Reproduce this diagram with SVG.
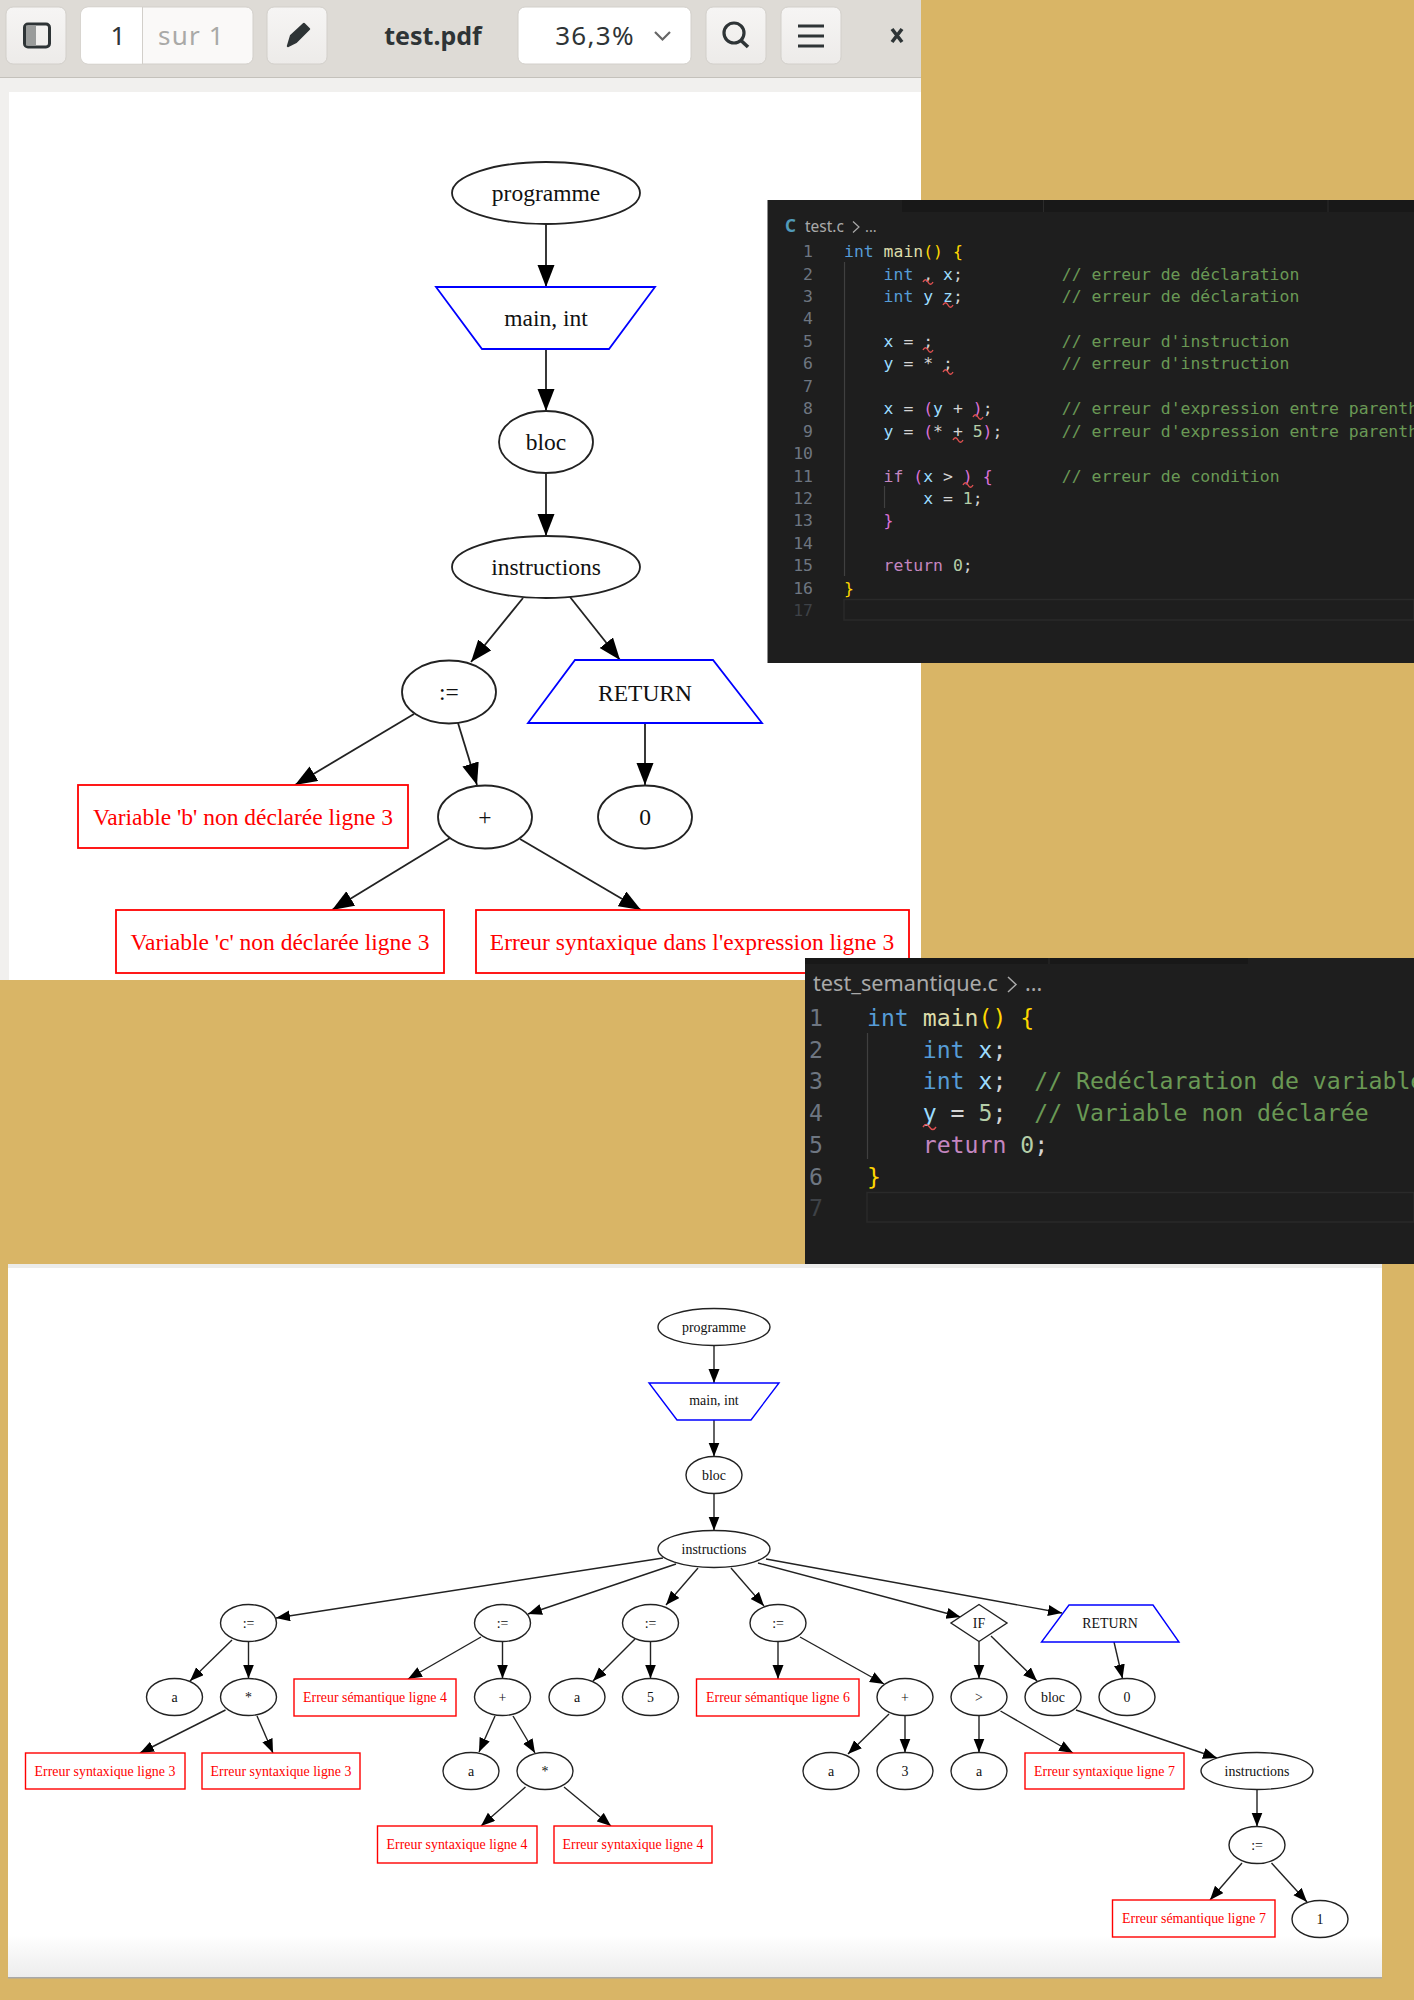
<svg xmlns="http://www.w3.org/2000/svg" width="1414" height="2000" viewBox="0 0 1414 2000">
<style>
.n{fill:#fff;stroke:#222;stroke-width:1.8}
.n2{fill:#fff;stroke:#222;stroke-width:1.4}
.b{fill:#fff;stroke:#0000ff;stroke-width:1.8}
.b2{fill:#fff;stroke:#0000ff;stroke-width:1.4}
.r{fill:#fff;stroke:#ff0000;stroke-width:1.8}
.r2{fill:#fff;stroke:#ff0000;stroke-width:1.4}
.t{font-family:"Liberation Serif",serif;font-size:23.5px;text-anchor:middle;fill:#111}
.tr{font-family:"Liberation Serif",serif;font-size:23.5px;text-anchor:middle;fill:#ff0000}
.s{font-family:"Liberation Serif",serif;font-size:13.9px;text-anchor:middle;fill:#111}
.sr{font-family:"Liberation Serif",serif;font-size:13.9px;text-anchor:middle;fill:#ff0000}
.e1 line{stroke:#222;stroke-width:1.8;marker-end:url(#a1)}
.e2 line{stroke:#222;stroke-width:1.4;marker-end:url(#a2)}
.btn{fill:#f1f0ee;stroke:#d2cfca;stroke-width:1}
.ui{font-family:"Noto Sans",sans-serif;font-size:26px;fill:#2e3436}
.c1{font-family:"DejaVu Sans Mono",monospace;font-size:16.45px;white-space:pre;fill:#d4d4d4}
.c2{font-family:"DejaVu Sans Mono",monospace;font-size:23.15px;white-space:pre;fill:#d4d4d4}
.l1{font-family:"DejaVu Sans Mono",monospace;font-size:16.45px;text-anchor:end;fill:#6e7681}
.l2{font-family:"DejaVu Sans Mono",monospace;font-size:23.15px;text-anchor:end;fill:#6e7681}
.k{fill:#569cd6}.f{fill:#dcdcaa}.v{fill:#9cdcfe}.m{fill:#6a9955}.p{fill:#c586c0}.o{fill:#b5cea8}.y{fill:#ffd700}.q{fill:#da70d6}
.sq{fill:none;stroke:#e05050;stroke-width:1.4}
.g{stroke:#404040;stroke-width:1.2}
</style>
<defs>
<marker id="a1" markerUnits="userSpaceOnUse" markerWidth="23" markerHeight="18" refX="22" refY="8.5" orient="auto"><path d="M0 0L22 8.5L0 17Z" fill="#000"/></marker>
<marker id="a2" markerUnits="userSpaceOnUse" markerWidth="15" markerHeight="12" refX="14" refY="5.5" orient="auto"><path d="M0 0L14 5.5L0 11Z" fill="#000"/></marker>
<linearGradient id="sh" x1="0" y1="0" x2="0" y2="1"><stop offset="0" stop-color="#fff"/><stop offset="1" stop-color="#ececec"/></linearGradient>
<linearGradient id="bt" x1="0" y1="0" x2="0" y2="1"><stop offset="0" stop-color="#f6f5f4"/><stop offset="1" stop-color="#edebe9"/></linearGradient>
<path id="w1" d="M0 2q2.5-4.5 5 0t5 0" class="sq"/>
</defs>
<rect width="1414" height="2000" fill="#d9b566"/>

<g id="viewer">
<rect x="0" y="77" width="921" height="903" fill="#f1f0ee"/>
<rect x="0" y="0" width="921" height="77" fill="#dedbd6"/>
<line x1="0" y1="77.5" x2="921" y2="77.5" stroke="#c4c1bb"/>
<rect x="9" y="92" width="912" height="888" fill="#fff"/>
</g>
<g id="toolbar">
<rect class="btn" x="6" y="7" width="60" height="57" rx="7" style="fill:url(#bt)"/>
<rect x="24.500" y="24" width="25" height="23" rx="3.500" fill="none" stroke="#2e3436" stroke-width="3"/>
<rect x="26" y="25.500" width="10" height="20" fill="#9a9c9b"/>
<rect class="btn" x="81" y="7" width="172" height="57" rx="7" style="fill:#faf9f8"/>
<path d="M88 7.500H142V63.500H88a7 7 0 0 1-7-7V14.500a7 7 0 0 1 7-7Z" fill="#fff"/>
<line x1="142.500" y1="7" x2="142.500" y2="64" stroke="#d2cfca"/>
<text class="ui" x="118" y="45" text-anchor="middle" fill="#222">1</text>
<text class="ui" x="158" y="45" letter-spacing="1.200" style="fill:#a9a9a7">sur 1</text>
<rect class="btn" x="267" y="7" width="60" height="57" rx="7" style="fill:url(#bt)"/>
<path d="M288 46L291 36L304 24L309 29L296 42Z" fill="#2e3436" stroke="#2e3436" stroke-width="2.400" stroke-linejoin="round"/>
<text class="ui" x="433" y="45" text-anchor="middle" font-weight="700" style="font-size:25px">test.pdf</text>
<rect class="btn" x="518" y="7" width="173" height="57" rx="7" style="fill:#fff"/>
<text class="ui" x="595" y="45" text-anchor="middle" letter-spacing="1.300">36,3%</text>
<path d="M655 32L662.500 39.500L670 32" fill="none" stroke="#666" stroke-width="2.200"/>
<rect class="btn" x="706" y="7" width="60" height="57" rx="7" style="fill:url(#bt)"/>
<circle cx="734" cy="33" r="10" fill="none" stroke="#2e3436" stroke-width="3.200"/>
<line x1="741" y1="40.500" x2="748" y2="47" stroke="#2e3436" stroke-width="3.600"/>
<rect class="btn" x="781" y="7" width="60" height="57" rx="7" style="fill:url(#bt)"/>
<path d="M798 26H824M798 36H824M798 46H824" stroke="#2e3436" stroke-width="3.200" fill="none"/>
<path d="M892 29L902 42M902 29L892 42" stroke="#2e3436" stroke-width="3.600" fill="none"/>
</g>

<g id="connectors-top" class="e1">
<line x1="546" y1="224" x2="546" y2="287"/>
<line x1="546" y1="349" x2="546" y2="411"/>
<line x1="546" y1="473" x2="546" y2="536"/>
<line x1="523" y1="598" x2="471" y2="662"/>
<line x1="570" y1="597" x2="620" y2="660"/>
<line x1="414" y1="714" x2="295" y2="785"/>
<line x1="458" y1="723" x2="477" y2="785"/>
<line x1="645" y1="723" x2="645" y2="785"/>
<line x1="450" y1="838" x2="332" y2="910"/>
<line x1="520" y1="839" x2="641" y2="910"/>
</g>
<g id="top-programme"><ellipse class="n" cx="546" cy="193" rx="94" ry="31"/><text class="t" x="546" y="201">programme</text></g>
<g id="top-main"><path class="b" d="M436 287H655L609 349H482Z"/><text class="t" x="546" y="326">main, int</text></g>
<g id="top-bloc"><ellipse class="n" cx="546" cy="442" rx="47" ry="31"/><text class="t" x="546" y="450">bloc</text></g>
<g id="top-instructions"><ellipse class="n" cx="546" cy="567" rx="94" ry="31"/><text class="t" x="546" y="575">instructions</text></g>
<g id="top-assign"><ellipse class="n" cx="449" cy="692" rx="47" ry="31.500"/><text class="t" x="449" y="700">:=</text></g>
<g id="top-return"><path class="b" d="M575 660H713L762 723H528Z"/><text class="t" x="645" y="701">RETURN</text></g>
<g id="top-err-b"><rect class="r" x="78" y="785" width="330" height="63"/><text class="tr" x="243" y="825">Variable 'b' non déclarée ligne 3</text></g>
<g id="top-plus"><ellipse class="n" cx="485" cy="817" rx="47" ry="31.500"/><text class="t" x="485" y="825">+</text></g>
<g id="top-zero"><ellipse class="n" cx="645" cy="817" rx="47" ry="31.500"/><text class="t" x="645" y="825">0</text></g>
<g id="top-err-c"><rect class="r" x="116" y="910" width="328" height="63"/><text class="tr" x="280" y="950">Variable 'c' non déclarée ligne 3</text></g>
<g id="top-err-expr"><rect class="r" x="476" y="910" width="433" height="63"/><text class="tr" x="692" y="950">Erreur syntaxique dans l'expression ligne 3</text></g>

<g id="panel-test-c">
<rect x="767.500" y="200" width="646.500" height="463" fill="#1e1e1e"/>
<rect x="902" y="200" width="512" height="12" fill="#181818"/>
<path d="M1043.500 200V212M1328 200V212" stroke="#2b2b2b"/>
<text x="785" y="232" font-family="Noto Sans,sans-serif" font-size="17" font-weight="700" fill="#519aba">C</text>
<text x="805" y="232" font-family="Noto Sans,sans-serif" font-size="15.500" fill="#a9a9a9">test.c</text>
<path d="M853 221.500L859 227L853 232.500" fill="none" stroke="#a9a9a9" stroke-width="1.200"/>
<text x="865" y="232" font-family="Noto Sans,sans-serif" font-size="14.500" fill="#a9a9a9">...</text>
<path class="g" d="M844.500 262V576M884.500 486V508"/>
<rect x="844" y="599.500" width="570" height="20.500" fill="none" stroke="#2a2a2a" stroke-width="1.500"/>
<g>
<text class="l1" x="813" y="257">1</text><text class="l1" x="813" y="279.500">2</text><text class="l1" x="813" y="302">3</text><text class="l1" x="813" y="324.300">4</text><text class="l1" x="813" y="346.800">5</text><text class="l1" x="813" y="369.200">6</text><text class="l1" x="813" y="391.700">7</text><text class="l1" x="813" y="414.200">8</text><text class="l1" x="813" y="436.600">9</text><text class="l1" x="813" y="459">10</text><text class="l1" x="813" y="481.500">11</text><text class="l1" x="813" y="504">12</text><text class="l1" x="813" y="526.400">13</text><text class="l1" x="813" y="548.900">14</text><text class="l1" x="813" y="571.300">15</text><text class="l1" x="813" y="593.800">16</text><text class="l1" x="813" y="616.200" style="fill:#3e4247">17</text>
</g>
<text class="c1" x="844" y="257"><tspan class="k">int</tspan> <tspan class="f">main</tspan><tspan class="y">()</tspan> <tspan class="y">{</tspan></text>
<text class="c1" x="844" y="279.500">    <tspan class="k">int</tspan> , <tspan class="v">x</tspan>;          <tspan class="m">// erreur de déclaration</tspan></text>
<text class="c1" x="844" y="302">    <tspan class="k">int</tspan> <tspan class="v">y</tspan> <tspan class="v">z</tspan>;          <tspan class="m">// erreur de déclaration</tspan></text>
<text class="c1" x="844" y="346.800">    <tspan class="v">x</tspan> = ;             <tspan class="m">// erreur d'instruction</tspan></text>
<text class="c1" x="844" y="369.200">    <tspan class="v">y</tspan> = * ;           <tspan class="m">// erreur d'instruction</tspan></text>
<text class="c1" x="844" y="414.200">    <tspan class="v">x</tspan> = <tspan class="q">(</tspan><tspan class="v">y</tspan> + <tspan class="q">)</tspan>;       <tspan class="m">// erreur d'expression entre parenth</tspan></text>
<text class="c1" x="844" y="436.600">    <tspan class="v">y</tspan> = <tspan class="q">(</tspan>* + <tspan class="o">5</tspan><tspan class="q">)</tspan>;      <tspan class="m">// erreur d'expression entre parenth</tspan></text>
<text class="c1" x="844" y="481.500">    <tspan class="p">if</tspan> <tspan class="q">(</tspan><tspan class="v">x</tspan> &gt; <tspan class="q">)</tspan> <tspan class="q">{</tspan>       <tspan class="m">// erreur de condition</tspan></text>
<text class="c1" x="844" y="504">        <tspan class="v">x</tspan> = <tspan class="o">1</tspan>;</text>
<text class="c1" x="844" y="526.400">    <tspan class="q">}</tspan></text>
<text class="c1" x="844" y="571.300">    <tspan class="p">return</tspan> <tspan class="o">0</tspan>;</text>
<text class="c1" x="844" y="593.800"><tspan class="y">}</tspan></text>
<use href="#w1" x="923" y="280"/><use href="#w1" x="943" y="303"/><use href="#w1" x="923" y="348"/><use href="#w1" x="943" y="370"/><use href="#w1" x="973" y="415"/><use href="#w1" x="953" y="438"/><use href="#w1" x="963" y="483"/>
</g>

<g id="panel-test-semantique">
<rect x="805" y="958" width="609" height="306" fill="#1e1e1e"/>
<rect x="805" y="958" width="443" height="6" fill="#181818"/>
<path d="M1049 958V964" stroke="#2b2b2b"/>
<text x="813" y="991" font-family="Noto Sans,sans-serif" font-size="21.700" fill="#a9a9a9">test_semantique.c</text>
<path d="M1008 977L1016 984.500L1008 992" fill="none" stroke="#a9a9a9" stroke-width="1.500"/>
<text x="1025" y="991" font-family="Noto Sans,sans-serif" font-size="21.500" fill="#a9a9a9">...</text>
<path class="g" d="M867.500 1033V1159"/>
<rect x="867" y="1192.500" width="547" height="29.500" fill="none" stroke="#2a2a2a" stroke-width="1.500"/>
<g>
<text class="l2" x="823" y="1026">1</text><text class="l2" x="823" y="1057.700">2</text><text class="l2" x="823" y="1089.400">3</text><text class="l2" x="823" y="1121">4</text><text class="l2" x="823" y="1152.800">5</text><text class="l2" x="823" y="1184.500">6</text><text class="l2" x="823" y="1216.200" style="fill:#3e4247">7</text>
</g>
<text class="c2" x="867" y="1026"><tspan class="k">int</tspan> <tspan class="f">main</tspan><tspan class="y">()</tspan> <tspan class="y">{</tspan></text>
<text class="c2" x="867" y="1057.700">    <tspan class="k">int</tspan> <tspan class="v">x</tspan>;</text>
<text class="c2" x="867" y="1089.400">    <tspan class="k">int</tspan> <tspan class="v">x</tspan>;  <tspan class="m">// Redéclaration de variable</tspan></text>
<text class="c2" x="867" y="1121">    <tspan class="v">y</tspan> = <tspan class="o">5</tspan>;  <tspan class="m">// Variable non déclarée</tspan></text>
<text class="c2" x="867" y="1152.800">    <tspan class="p">return</tspan> <tspan class="o">0</tspan>;</text>
<text class="c2" x="867" y="1184.500"><tspan class="y">}</tspan></text>
<path class="sq" d="M923 1127q3.200-5 6.500 0t6.500 0"/>
</g>

<g id="page-2">
<rect x="8" y="1264" width="1374" height="714" fill="#fff"/>
<rect x="8" y="1264" width="1374" height="4" fill="#ececea"/>
<rect x="8" y="1935" width="1374" height="43" fill="url(#sh)"/>
<rect x="8" y="1977" width="1374" height="1.500" fill="#a8a8a8"/>
</g>

<g id="connectors-bottom" class="e2">
<line x1="714" y1="1345.500" x2="714" y2="1383"/>
<line x1="714" y1="1420" x2="714" y2="1456.500"/>
<line x1="714" y1="1493.500" x2="714" y2="1530.500"/>
<line x1="663" y1="1558" x2="276" y2="1618"/>
<line x1="676" y1="1564" x2="528" y2="1614"/>
<line x1="698" y1="1568" x2="666" y2="1605"/>
<line x1="731" y1="1568" x2="764" y2="1606"/>
<line x1="758" y1="1563" x2="960.500" y2="1617"/>
<line x1="766" y1="1559" x2="1062" y2="1613"/>
<line x1="232" y1="1640" x2="190" y2="1681"/>
<line x1="248.500" y1="1641.500" x2="248.500" y2="1678.500"/>
<line x1="225.500" y1="1710" x2="140" y2="1753"/>
<line x1="257" y1="1716" x2="273" y2="1753"/>
<line x1="481" y1="1637" x2="408" y2="1679"/>
<line x1="502.500" y1="1641.500" x2="502.500" y2="1678.500"/>
<line x1="495" y1="1716" x2="479" y2="1752"/>
<line x1="513" y1="1716" x2="535" y2="1753"/>
<line x1="525.500" y1="1787" x2="481" y2="1826"/>
<line x1="564" y1="1787" x2="611" y2="1826"/>
<line x1="635" y1="1639" x2="593" y2="1681"/>
<line x1="650.500" y1="1641.500" x2="650.500" y2="1678.500"/>
<line x1="778" y1="1641.500" x2="778" y2="1679"/>
<line x1="800" y1="1637" x2="884" y2="1684"/>
<line x1="889" y1="1714" x2="848" y2="1754"/>
<line x1="905" y1="1715.500" x2="905" y2="1752.500"/>
<line x1="979" y1="1641.500" x2="979" y2="1678.500"/>
<line x1="991" y1="1636" x2="1037" y2="1681"/>
<line x1="979" y1="1715.500" x2="979" y2="1752.500"/>
<line x1="1000.500" y1="1711" x2="1073" y2="1753"/>
<line x1="1076" y1="1710" x2="1217" y2="1758"/>
<line x1="1114" y1="1642" x2="1122.500" y2="1678.500"/>
<line x1="1257" y1="1789.500" x2="1257" y2="1826.500"/>
<line x1="1242" y1="1863" x2="1210" y2="1900"/>
<line x1="1271.500" y1="1863" x2="1307" y2="1902"/>
</g>

<g id="b-programme"><ellipse class="n2" cx="714" cy="1327" rx="56" ry="18.500"/><text class="s" x="714" y="1331.500">programme</text></g>
<g id="b-main"><path class="b2" d="M649 1383H779L751 1420H677Z"/><text class="s" x="714" y="1405">main, int</text></g>
<g id="b-bloc"><ellipse class="n2" cx="714" cy="1475" rx="28" ry="18.500"/><text class="s" x="714" y="1479.500">bloc</text></g>
<g id="b-instructions"><ellipse class="n2" cx="714" cy="1549" rx="56" ry="18.500"/><text class="s" x="714" y="1553.500">instructions</text></g>
<g id="b-assign1"><ellipse class="n2" cx="248.500" cy="1623" rx="28" ry="18.500"/><text class="s" x="248.500" y="1627.500">:=</text></g>
<g id="b-a1"><ellipse class="n2" cx="174.500" cy="1697" rx="28" ry="18.500"/><text class="s" x="174.500" y="1701.500">a</text></g>
<g id="b-star1"><ellipse class="n2" cx="248.500" cy="1697" rx="28" ry="18.500"/><text class="s" x="248.500" y="1701.500">*</text></g>
<g id="b-e3a"><rect class="r2" x="25.500" y="1753" width="159.500" height="36"/><text class="sr" x="105" y="1775.500">Erreur syntaxique ligne 3</text></g>
<g id="b-e3b"><rect class="r2" x="202" y="1753" width="158" height="36"/><text class="sr" x="281" y="1775.500">Erreur syntaxique ligne 3</text></g>
<g id="b-assign2"><ellipse class="n2" cx="502.500" cy="1623" rx="28" ry="18.500"/><text class="s" x="502.500" y="1627.500">:=</text></g>
<g id="b-es4"><rect class="r2" x="294" y="1679" width="162" height="37"/><text class="sr" x="375" y="1702">Erreur sémantique ligne 4</text></g>
<g id="b-plus1"><ellipse class="n2" cx="502.500" cy="1697" rx="28" ry="18.500"/><text class="s" x="502.500" y="1701.500">+</text></g>
<g id="b-a2"><ellipse class="n2" cx="471" cy="1771" rx="28" ry="18.500"/><text class="s" x="471" y="1775.500">a</text></g>
<g id="b-star2"><ellipse class="n2" cx="545" cy="1771" rx="28" ry="18.500"/><text class="s" x="545" y="1775.500">*</text></g>
<g id="b-e4a"><rect class="r2" x="377.500" y="1826" width="159.500" height="37"/><text class="sr" x="457" y="1849">Erreur syntaxique ligne 4</text></g>
<g id="b-e4b"><rect class="r2" x="554" y="1826" width="158" height="37"/><text class="sr" x="633" y="1849">Erreur syntaxique ligne 4</text></g>
<g id="b-assign3"><ellipse class="n2" cx="650.500" cy="1623" rx="28" ry="18.500"/><text class="s" x="650.500" y="1627.500">:=</text></g>
<g id="b-a3"><ellipse class="n2" cx="577" cy="1697" rx="28" ry="18.500"/><text class="s" x="577" y="1701.500">a</text></g>
<g id="b-five"><ellipse class="n2" cx="650.500" cy="1697" rx="28" ry="18.500"/><text class="s" x="650.500" y="1701.500">5</text></g>
<g id="b-assign4"><ellipse class="n2" cx="778" cy="1623" rx="28" ry="18.500"/><text class="s" x="778" y="1627.500">:=</text></g>
<g id="b-es6"><rect class="r2" x="696.500" y="1679" width="162.500" height="37"/><text class="sr" x="778" y="1702">Erreur sémantique ligne 6</text></g>
<g id="b-plus2"><ellipse class="n2" cx="905" cy="1697" rx="28" ry="18.500"/><text class="s" x="905" y="1701.500">+</text></g>
<g id="b-a4"><ellipse class="n2" cx="831" cy="1771" rx="28" ry="18.500"/><text class="s" x="831" y="1775.500">a</text></g>
<g id="b-three"><ellipse class="n2" cx="905" cy="1771" rx="28" ry="18.500"/><text class="s" x="905" y="1775.500">3</text></g>
<g id="b-if"><path class="n2" d="M979 1604.500L1007 1623L979 1641.500L951 1623Z"/><text class="s" x="979" y="1627.500">IF</text></g>
<g id="b-gt"><ellipse class="n2" cx="979" cy="1697" rx="28" ry="18.500"/><text class="s" x="979" y="1701.500">&gt;</text></g>
<g id="b-bloc2"><ellipse class="n2" cx="1053" cy="1697" rx="28" ry="18.500"/><text class="s" x="1053" y="1701.500">bloc</text></g>
<g id="b-zero"><ellipse class="n2" cx="1127" cy="1697" rx="28" ry="18.500"/><text class="s" x="1127" y="1701.500">0</text></g>
<g id="b-return"><path class="b2" d="M1069 1605H1153L1179 1642H1041.500Z"/><text class="s" x="1110" y="1627.500">RETURN</text></g>
<g id="b-a5"><ellipse class="n2" cx="979" cy="1771" rx="28" ry="18.500"/><text class="s" x="979" y="1775.500">a</text></g>
<g id="b-e7"><rect class="r2" x="1025" y="1753" width="159" height="36"/><text class="sr" x="1104.500" y="1775.500">Erreur syntaxique ligne 7</text></g>
<g id="b-instructions2"><ellipse class="n2" cx="1257" cy="1771" rx="56" ry="18.500"/><text class="s" x="1257" y="1775.500">instructions</text></g>
<g id="b-assign5"><ellipse class="n2" cx="1257" cy="1845" rx="28" ry="18.500"/><text class="s" x="1257" y="1849.500">:=</text></g>
<g id="b-es7"><rect class="r2" x="1112.500" y="1900" width="162.500" height="37"/><text class="sr" x="1194" y="1923">Erreur sémantique ligne 7</text></g>
<g id="b-one"><ellipse class="n2" cx="1320" cy="1919" rx="28" ry="18.500"/><text class="s" x="1320" y="1923.500">1</text></g>
</svg>
